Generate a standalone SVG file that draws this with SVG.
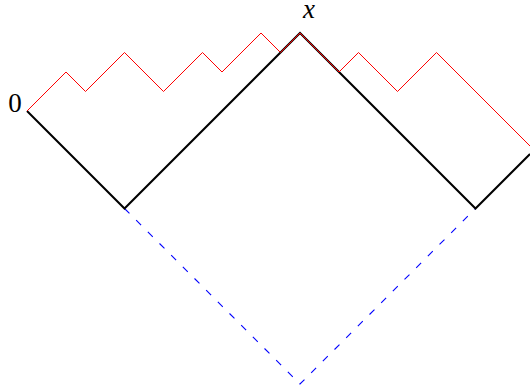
<svg xmlns="http://www.w3.org/2000/svg" width="530" height="387" viewBox="0 0 530 387">
<style>
.red{fill:none;stroke:#ff0000;stroke-width:1}
.blk{fill:none;stroke:#000000;stroke-width:2}
.blu{fill:none;stroke:#0000ff;stroke-width:1.1;stroke-dasharray:7 9.5}
.lbl{font-family:'Liberation Serif','DejaVu Serif',serif;font-size:27px;fill:#000000}
</style>
<rect width="530" height="387" fill="#ffffff"/>
<g id="paths">
<path class="blu" d="M124.5,208.5 L300,384 L475.5,208.5"/>
<path class="blk" d="M27,111 L124.5,208.5 L300,33 L475.5,208.5 L530,154"/>
<path class="red" d="M27,111 L66,72 L85.5,91.5 L124.5,52.5 L163.5,91.5 L202.5,52.5 L222,72 L261,33 L280.5,52.5 L300,33 L339,72 L358.5,52.5 L397.5,91.5 L436.5,52.5 L530,146"/>
</g>
<g id="labels">
<text class="lbl" x="15" y="112" text-anchor="middle">0</text>
<text class="lbl" x="309" y="18" text-anchor="middle" font-style="italic">x</text>
</g>
</svg>
